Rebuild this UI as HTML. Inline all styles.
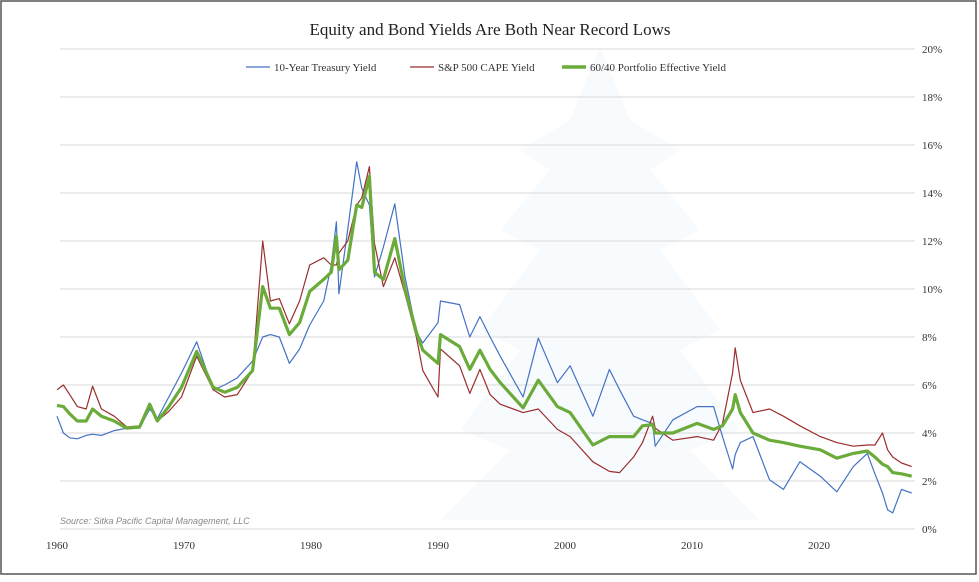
<!DOCTYPE html>
<html><head><meta charset="utf-8"><style>
body{margin:0;background:#fff;}
svg text{font-family:"Liberation Serif",serif;}
</style></head><body>
<svg id="chart" width="979" height="577" xmlns="http://www.w3.org/2000/svg">
<rect x="1" y="1" width="975" height="573" fill="#fff" stroke="#555" stroke-width="1.5"/>
<g fill="#f8fbfd">
 <polygon points="600,45 630,120 680,150 650,170 700,230 660,250 720,330 680,350 740,430 690,450 760,520 440,520 510,450 460,430 520,350 480,330 540,250 500,230 550,170 520,150 570,120"/>
</g>
<text x="490" y="35" text-anchor="middle" font-size="17" fill="#222">Equity and Bond Yields Are Both Near Record Lows</text>
<g id="grid"></g>
<g id="ylabels"></g>
<g id="xlabels"></g>
<g>
 <line x1="246" y1="67" x2="270" y2="67" stroke="#4472c4" stroke-width="1.3"/>
 <text x="274" y="71" font-size="11" fill="#333">10-Year Treasury Yield</text>
 <line x1="410" y1="67" x2="434" y2="67" stroke="#9b2d2d" stroke-width="1.3"/>
 <text x="438" y="71" font-size="11" fill="#333">S&amp;P 500 CAPE Yield</text>
 <line x1="562" y1="67" x2="586" y2="67" stroke="#6aab3a" stroke-width="3.5"/>
 <text x="590" y="71" font-size="11" fill="#333">60/40 Portfolio Effective Yield</text>
</g>
<g id="series"></g>
<text x="60" y="524" font-size="9" font-style="italic" fill="#888" style="font-family:'Liberation Sans',sans-serif">Source: Sitka Pacific Capital Management, LLC</text>
</svg>
<script>
const dates=[1960.0,1960.5,1961.0,1961.6,1962.3,1962.8,1963.5,1964.5,1965.5,1966.5,1967.3,1967.9,1968.8,1969.8,1971.0,1972.3,1973.2,1974.2,1975.4,1976.2,1976.8,1977.5,1978.3,1979.1,1979.9,1981.0,1981.6,1982.0,1982.2,1982.9,1983.6,1984.0,1984.6,1985.0,1985.7,1986.6,1987.4,1988.3,1988.8,1990.0,1990.2,1991.7,1992.5,1993.3,1994.1,1994.9,1996.7,1997.9,1999.4,2000.4,2002.2,2003.5,2004.3,2005.4,2006.1,2006.9,2007.1,2008.5,2010.4,2011.7,2012.4,2013.2,2013.4,2013.8,2014.8,2016.1,2017.2,2018.5,2020.1,2021.4,2022.7,2023.8,2024.4,2025.0,2025.4,2025.8,2026.5,2027.3];
const treasury=[4.7,4.0,3.8,3.76,3.9,3.95,3.9,4.1,4.2,4.2,5.0,4.6,5.5,6.5,7.8,5.8,6.0,6.3,7.0,8.0,8.1,8.0,6.9,7.5,8.5,9.5,11.0,12.8,9.8,12.5,15.3,14.2,13.5,10.5,11.75,13.55,10.5,8.2,7.75,8.6,9.5,9.35,8.0,8.85,8.0,7.2,5.5,7.95,6.1,6.8,4.7,6.65,5.8,4.7,4.55,4.4,3.45,4.55,5.1,5.1,3.85,2.5,3.1,3.6,3.85,2.05,1.65,2.8,2.2,1.55,2.6,3.15,2.3,1.5,0.8,0.67,1.65,1.5];
const cape=[5.8,6.0,5.6,5.1,5.0,5.95,5.0,4.7,4.25,4.3,5.2,4.5,4.9,5.5,7.2,5.8,5.5,5.6,6.6,12.0,9.5,9.6,8.55,9.5,11.0,11.3,11.0,11.0,11.5,12.0,13.5,13.8,15.1,11.9,10.1,11.3,9.8,8.0,6.6,5.5,7.5,6.8,5.65,6.65,5.6,5.2,4.85,5.0,4.15,3.85,2.8,2.4,2.35,3.0,3.6,4.7,4.2,3.7,3.85,3.7,4.4,6.5,7.55,6.2,4.85,5.0,4.7,4.3,3.85,3.6,3.45,3.5,3.5,4.0,3.3,3.0,2.75,2.6];
const portfolio=[5.15,5.1,4.8,4.5,4.5,5.0,4.7,4.5,4.2,4.25,5.2,4.5,5.1,5.9,7.4,5.9,5.7,5.9,6.6,10.1,9.2,9.2,8.1,8.6,9.9,10.4,10.7,12.2,10.8,11.2,13.5,13.4,14.7,10.7,10.4,12.1,10.0,8.2,7.45,6.9,8.1,7.6,6.65,7.45,6.65,6.1,5.05,6.2,5.1,4.85,3.5,3.85,3.85,3.85,4.3,4.35,4.0,4.0,4.4,4.15,4.3,5.0,5.6,4.85,4.0,3.7,3.6,3.45,3.3,2.95,3.15,3.25,3.0,2.7,2.6,2.35,2.3,2.2];
const yTicks=[0,2,4,6,8,10,12,14,16,18,20];
const xTicks=[1960,1970,1980,1990,2000,2010,2020];

const NS="http://www.w3.org/2000/svg";
function xs(t){return 57+(t-1960)*12.7;}
function ys(v){return 529-v*24;}
const grid=document.getElementById('grid'),yl=document.getElementById('ylabels'),xl=document.getElementById('xlabels'),sg=document.getElementById('series');
yTicks.forEach(v=>{
 const l=document.createElementNS(NS,'line');
 
 
 l.setAttribute('x1',60);l.setAttribute('x2',915);l.setAttribute('y1',ys(v));l.setAttribute('y2',ys(v));
 l.setAttribute('stroke','#d9d9d9');l.setAttribute('stroke-width','1');
 grid.appendChild(l);
 const t=document.createElementNS(NS,'text');
 
 
 t.setAttribute('x',922);t.setAttribute('y',ys(v)+4);t.setAttribute('font-size','11');t.setAttribute('fill','#333');
 t.textContent=v+'%';yl.appendChild(t);
});
xTicks.forEach(v=>{
 const t=document.createElementNS(NS,'text');
 
 
 t.setAttribute('x',xs(v));t.setAttribute('y',549);t.setAttribute('font-size','11');t.setAttribute('fill','#333');t.setAttribute('text-anchor','middle');
 t.textContent=v;xl.appendChild(t);
});
function draw(vals,color,w,name){
 const p=document.createElementNS(NS,'polyline');
 
 
 p.setAttribute('points',vals.map((v,i)=>xs(dates[i]).toFixed(1)+','+ys(v).toFixed(1)).join(' '));
 p.setAttribute('fill','none');p.setAttribute('stroke',color);p.setAttribute('stroke-width',w);p.setAttribute('stroke-linejoin','round');
 sg.appendChild(p);
}
draw(treasury,'#4472c4',1.2,'treasury-line');
draw(cape,'#9b2d2d',1.2,'cape-line');
draw(portfolio,'#6aab3a',3.2,'portfolio-line');
</script>
</body></html>
